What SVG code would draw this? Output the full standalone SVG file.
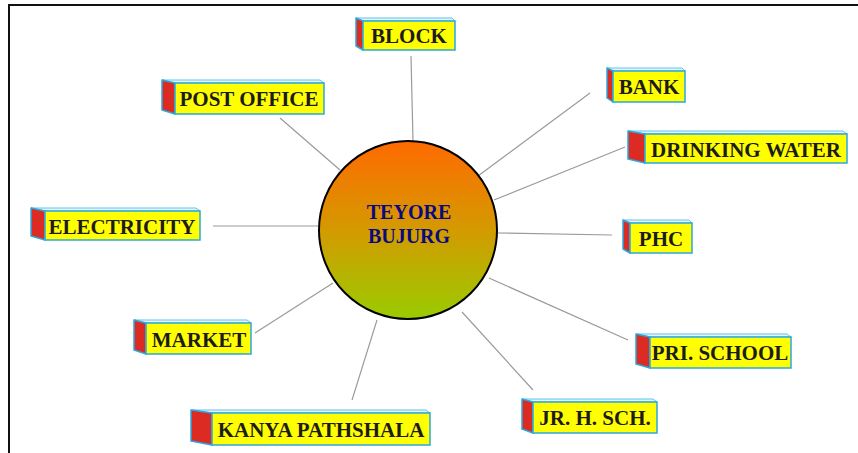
<svg xmlns="http://www.w3.org/2000/svg" width="858" height="453" viewBox="0 0 858 453">
  <defs>
    <linearGradient id="hubFill" x1="0" y1="0" x2="0" y2="1">
      <stop offset="0" stop-color="#ff6a00"/>
      <stop offset="0.5" stop-color="#d49a00"/>
      <stop offset="1" stop-color="#99cc00"/>
    </linearGradient>
  </defs>
  <style>
    .frame { fill: none; stroke: #111; stroke-width: 2; }
    .link { stroke: #9a9a9a; stroke-width: 1.2; fill: none; }
    .top { fill: #e6f6fc; stroke: #5cc3ea; stroke-width: 1; }
    .side { fill: #dc2b22; stroke: #29a8e0; stroke-width: 1.5; stroke-linejoin: round; }
    .front { fill: #ffff00; stroke: #29a8e0; stroke-width: 1.5; }
    .label { font-family: "Liberation Serif", "Times New Roman", serif; font-weight: bold; font-size: 21px; fill: #1c1c1c; text-anchor: middle; }
    .hub-text { font-family: "Liberation Serif", "Times New Roman", serif; font-weight: bold; font-size: 20px; fill: #0a0a80; text-anchor: middle; }
  </style>

  <rect class="frame" x="9" y="5" width="860" height="460"/>

  <g id="connectors">
    <line class="link" x1="411" y1="56" x2="413" y2="141"/>
    <line class="link" x1="280" y1="118" x2="340" y2="170"/>
    <line class="link" x1="590" y1="93" x2="478" y2="176"/>
    <line class="link" x1="625" y1="147" x2="494" y2="200"/>
    <line class="link" x1="213" y1="226" x2="318" y2="226"/>
    <line class="link" x1="498" y1="233" x2="612" y2="235"/>
    <line class="link" x1="489" y1="278" x2="628" y2="340"/>
    <line class="link" x1="255" y1="333" x2="333" y2="283"/>
    <line class="link" x1="352" y1="400" x2="377" y2="320"/>
    <line class="link" x1="462" y1="312" x2="533" y2="390"/>
  </g>

  <g id="hub">
    <circle cx="408" cy="230" r="89" fill="url(#hubFill)" stroke="#000" stroke-width="2"/>
    <text class="hub-text" x="409" y="219">TEYORE</text>
    <text class="hub-text" x="409" y="243">BUJURG</text>
  </g>

  <g id="block">
    <polygon class="top" points="356,18 452,18 455,21 363,21"/>
    <polygon class="side" points="356,18 363,21 363,50 356,46"/>
    <rect class="front" x="363" y="21" width="92" height="29"/>
    <text class="label" x="409" y="43">BLOCK</text>
  </g>

  <g id="post-office">
    <polygon class="top" points="162,80 320,80 324,83 175,83"/>
    <polygon class="side" points="162,80 175,83 175,114 162,110"/>
    <rect class="front" x="175" y="83" width="149" height="31"/>
    <text class="label" x="249" y="106">POST OFFICE</text>
  </g>

  <g id="bank">
    <polygon class="top" points="607,68 682,68 685,71 613,71"/>
    <polygon class="side" points="607,68 613,71 613,102 607,98"/>
    <rect class="front" x="613" y="71" width="72" height="31"/>
    <text class="label" x="649" y="94">BANK</text>
  </g>

  <g id="drinking-water">
    <polygon class="top" points="628,131 843,131 847,134 645,134"/>
    <polygon class="side" points="628,131 645,134 645,163 628,159"/>
    <rect class="front" x="645" y="134" width="202" height="29"/>
    <text class="label" x="746" y="157">DRINKING WATER</text>
  </g>

  <g id="electricity">
    <polygon class="top" points="31,208 196,208 200,211 45,211"/>
    <polygon class="side" points="31,208 45,211 45,240 31,236"/>
    <rect class="front" x="45" y="211" width="155" height="29"/>
    <text class="label" x="122" y="234">ELECTRICITY</text>
  </g>

  <g id="phc">
    <polygon class="top" points="623,220 689,220 692,223 630,223"/>
    <polygon class="side" points="623,220 630,223 630,253 623,249"/>
    <rect class="front" x="630" y="223" width="62" height="30"/>
    <text class="label" x="661" y="246">PHC</text>
  </g>

  <g id="pri-school">
    <polygon class="top" points="636,334 787,334 791,337 650,337"/>
    <polygon class="side" points="636,334 650,337 650,368 636,364"/>
    <rect class="front" x="650" y="337" width="141" height="31"/>
    <text class="label" x="720" y="360">PRI. SCHOOL</text>
  </g>

  <g id="market">
    <polygon class="top" points="134,320 247,320 251,323 146,323"/>
    <polygon class="side" points="134,320 146,323 146,354 134,350"/>
    <rect class="front" x="146" y="323" width="105" height="31"/>
    <text class="label" x="199" y="347">MARKET</text>
  </g>

  <g id="kanya-pathshala">
    <polygon class="top" points="191,410 426,410 430,413 212,413"/>
    <polygon class="side" points="191,410 212,413 212,445 191,441"/>
    <rect class="front" x="212" y="413" width="218" height="32"/>
    <text class="label" x="321" y="437">KANYA PATHSHALA</text>
  </g>

  <g id="jr-h-sch">
    <polygon class="top" points="522,399 653,399 657,402 533,402"/>
    <polygon class="side" points="522,399 533,402 533,433 522,429"/>
    <rect class="front" x="533" y="402" width="124" height="31"/>
    <text class="label" x="595" y="425">JR. H. SCH.</text>
  </g>
</svg>
